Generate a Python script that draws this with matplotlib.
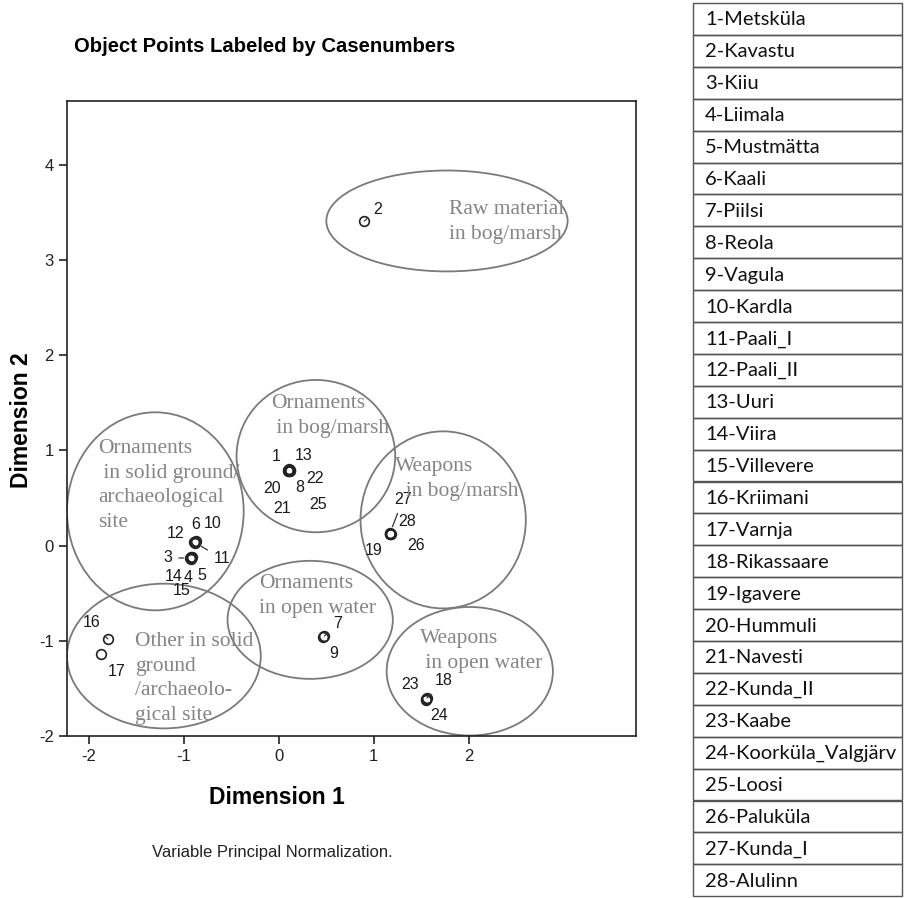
import matplotlib
matplotlib.use("Agg")
import matplotlib.pyplot as plt
from matplotlib.patches import Ellipse, Rectangle

plt.rcParams["axes.unicode_minus"] = False

# ---------------- data ----------------
case_ids = list(range(1, 29))
dim1 = [0.10, 0.90, -0.93, -0.92, -0.91, -0.88, 0.48, 0.11, 0.47, -0.87,
        -0.88, -0.89, 0.11, -0.92, -0.92, -1.80, -1.87, 1.56, 1.17, 0.10,
        0.11, 0.12, 1.55, 1.55, 0.12, 1.18, 1.17, 1.17]
dim2 = [0.79, 3.41, -0.13, -0.14, -0.12, 0.04, -0.95, 0.79, -0.96, 0.05,
        0.03, 0.04, 0.80, -0.13, -0.12, -0.98, -1.14, -1.60, 0.12, 0.78,
        0.78, 0.79, -1.61, -1.62, 0.78, 0.12, 0.13, 0.12]

site_names = ["Metsküla", "Kavastu", "Kiiu", "Liimala", "Mustmätta", "Kaali",
              "Piilsi", "Reola", "Vagula", "Kardla", "Paali_I", "Paali_II",
              "Uuri", "Viira", "Villevere", "Kriimani", "Varnja", "Rikassaare",
              "Igavere", "Hummuli", "Navesti", "Kunda_II", "Kaabe",
              "Koorküla_Valgjärv", "Loosi", "Paluküla", "Kunda_I", "Alulinn"]

group_labels = ["Raw material\nin bog/marsh",
                "Ornaments\n in bog/marsh",
                "Ornaments\n in solid ground/\narchaeological\nsite",
                "Weapons\n  in bog/marsh",
                "Other in solid\nground\n/archaeolo-\ngical site",
                "Ornaments\nin open water",
                "Weapons\n in open water"]
group_center_x = [1.77, 0.39, -1.30, 1.73, -1.21, 0.33, 2.01]
group_center_y = [3.41, 0.94, 0.36, 0.27, -1.16, -0.78, -1.32]
group_width = [2.54, 1.67, 1.86, 1.74, 2.04, 1.74, 1.75]
group_height = [1.06, 1.60, 2.08, 1.86, 1.52, 1.24, 1.35]

title = "Object Points Labeled by Casenumbers"
xlabel = "Dimension 1"
ylabel = "Dimension 2"
footnote = "Variable Principal Normalization."
xticks = [-2, -1, 0, 1, 2]
yticks = [-2, -1, 0, 1, 2, 3, 4]

# ---------------- layout / style ----------------
# label offsets in pixels (dx right, dy up) relative to the point
label_offsets = {
    1: (-12, 14), 13: (14, 14), 22: (25, -8), 8: (10, -17), 20: (-16, -17),
    21: (-7, -37), 25: (28, -33),
    12: (-19, 8), 6: (0, 17), 10: (16, 17), 11: (27, -16),
    3: (-23, 0), 14: (-18, -19), 4: (-3, -19), 5: (9, -18), 15: (-10, -33),
    16: (-16, 16), 17: (15, -17), 7: (13, 13), 9: (10, -17),
    23: (-16, 14), 18: (17, 17), 24: (13, -16),
    19: (-16, -16), 26: (25, -11), 27: (13, 34), 28: (17, 13),
    2: (13, 11),
}
leaders = {3, 11, 27, 7, 2, 18, 16}
# text anchor (left, top) in pixels
group_text_px = [(449, 200), (271, 394), (98, 439), (395, 457), (135, 632),
                 (259, 574), (420, 629)]

W, H = 906, 898
fig = plt.figure(figsize=(W / 100, H / 100), dpi=100)

ax_l, ax_r, ax_t, ax_b = 67, 636, 101, 736
ax = fig.add_axes([ax_l / W, 1 - ax_b / H, (ax_r - ax_l) / W, (ax_b - ax_t) / H])
ax.set_xlim(-2.23, 3.76)
ax.set_ylim(-2.0, 4.67)

for s in ax.spines.values():
    s.set_linewidth(1.2)
    s.set_color("#222222")
ax.set_xticks(xticks)
ax.set_yticks(yticks)
ax.tick_params(direction="out", length=6, width=1.2, labelsize=12,
               colors="#222222", top=False, right=False)
for t in ax.get_xticklabels() + ax.get_yticklabels():
    t.set_fontfamily("Liberation Sans")

# ellipses
for cx, cy, w, h in zip(group_center_x, group_center_y, group_width, group_height):
    ax.add_patch(Ellipse((cx, cy), w, h, fill=False, edgecolor="#7a7a7a",
                         linewidth=1.3, zorder=2))

# group texts
for txt, (px, py) in zip(group_labels, group_text_px):
    fig.text(px / W, 1 - py / H, txt, ha="left", va="top",
             fontfamily="Liberation Serif", fontsize=15.5, color="#858585",
             linespacing=1.41)

# points
ax.plot(dim1, dim2, linestyle="none", marker="o", markersize=7,
        markerfacecolor="none", markeredgecolor="#222222", markeredgewidth=1.2,
        zorder=4)

# labels
for cid, x, y in zip(case_ids, dim1, dim2):
    dx, dy = label_offsets[cid]
    arrow = None
    if cid in leaders:
        arrow = dict(arrowstyle="-", lw=0.9, color="#333333", shrinkA=3, shrinkB=5)
    ax.annotate(str(cid), xy=(x, y), xytext=(dx * 0.72, dy * 0.72),
                textcoords="offset points", ha="center", va="center",
                fontsize=11.5, fontfamily="Liberation Sans", color="#1a1a1a",
                arrowprops=arrow, zorder=5)

# titles
fig.text(265 / W, 1 - 47 / H, title, ha="center", va="center",
         fontsize=14.6, fontweight="bold", fontfamily="Liberation Sans")
fig.text(277 / W, 1 - 797 / H, xlabel, ha="center", va="center",
         fontsize=16.5, fontweight="bold", fontfamily="Liberation Sans")
fig.text(22 / W, 1 - 420 / H, ylabel, ha="center", va="center", rotation=90,
         fontsize=16.5, fontweight="bold", fontfamily="Liberation Sans")
fig.text(272 / W, 1 - 853 / H, footnote, ha="center", va="center",
         fontsize=12, fontfamily="Liberation Sans", color="#222222")

# side table
tab = fig.add_axes([0, 0, 1, 1], zorder=-1)
tab.set_xlim(0, W)
tab.set_ylim(H, 0)
tab.axis("off")
t_left, t_right, t_top, row_h = 693, 902, 3, 31.9
for i, name in enumerate(site_names):
    y0 = t_top + i * row_h
    tab.add_patch(Rectangle((t_left, y0), t_right - t_left, row_h, fill=False,
                            edgecolor="#555555", linewidth=1.0))
    tab.text(t_left + 12, y0 + row_h / 2 + 1, f"{case_ids[i]}-{name}",
             ha="left", va="center", fontsize=14.5, fontfamily="Lato",
             color="#111111")

fig.savefig("out.png", dpi=100)
